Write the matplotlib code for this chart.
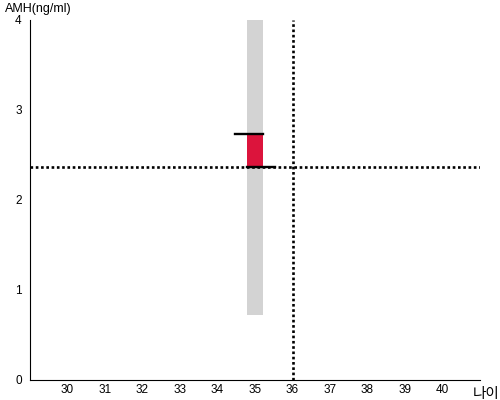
import matplotlib
matplotlib.use('Agg')
import matplotlib.pyplot as plt

# data
age_ticks = [30, 31, 32, 33, 34, 35, 36, 37, 38, 39, 40]
amh_ticks = [0, 1, 2, 3, 4]
age = 35
range_low, range_high = 0.72, 4.0
amh_low, amh_high = 2.37, 2.73
my_age = 36
my_amh = 2.37

plt.rcParams['font.family'] = ['Liberation Sans', 'Noto Sans CJK KR', 'DejaVu Sans']

fig = plt.figure(figsize=(5, 4), dpi=100)
ax = fig.add_axes([0.06, 0.05, 0.90, 0.90])

w = 0.42
ax.bar(age, range_high - range_low, bottom=range_low, width=w, color='#d3d3d3', zorder=1)
ax.bar(age, amh_high - amh_low, bottom=amh_low, width=w, color='#dc143c', zorder=2)
ax.plot([age - 0.53, age + w / 2], [amh_high, amh_high], color='black', lw=1.7, zorder=3)
ax.plot([age - w / 2, age + 0.53], [amh_low, amh_low], color='black', lw=1.7, zorder=3)

ax.axhline(my_amh, color='black', lw=1.9, linestyle=(0, (1, 1)), zorder=4)
ax.axvline(my_age, color='black', lw=1.9, linestyle=(0, (1, 1)), zorder=4)

ax.set_xlim(29, 41)
ax.set_ylim(0, 4)
ax.set_xticks(age_ticks)
ax.set_yticks(amh_ticks)
ax.tick_params(length=0, labelsize=8.5)
ax.tick_params(axis='x', pad=3)
ax.tick_params(axis='y', pad=6)
for s in ['top', 'right']:
    ax.spines[s].set_visible(False)

fig.text(0.01, 0.978, 'AMH(ng/ml)', fontsize=9, va='center', ha='left')
fig.text(0.945, 0.015, '나이', fontsize=10.5, va='center', ha='left')

plt.savefig('out.png')
